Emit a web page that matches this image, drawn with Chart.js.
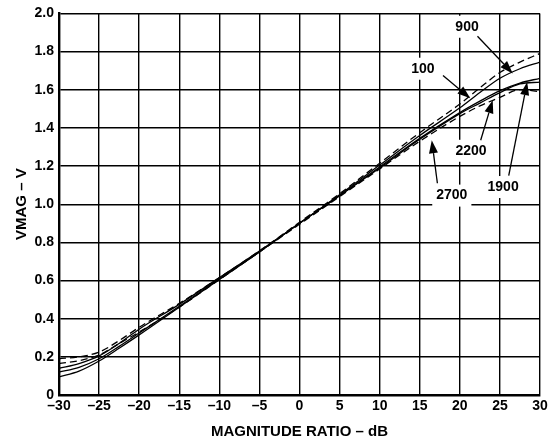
<!DOCTYPE html>
<html>
<head>
<meta charset="utf-8">
<script src="https://cdn.jsdelivr.net/npm/chart.js@4/dist/chart.umd.min.js"></script>
<style>
  html, body { margin: 0; padding: 0; background: #fff; }
  #wrap { width: 551px; height: 444px; }
</style>
</head>
<body>
<div id="wrap"><canvas id="vmagChart"></canvas></div>
<script>
// --- data ---
const ratioDb = [-30, -27.5, -25, -22.5, -20, -15, -10, -5, 0, 5, 10, 15, 20, 22.5, 25, 27.5, 30];

const vmag900  = [0.19, 0.20, 0.225, 0.285, 0.355, 0.48, 0.615, 0.755, 0.905, 1.055, 1.215, 1.375, 1.525, 1.61, 1.69, 1.745, 1.79];
const vmag2700 = [0.165, 0.18, 0.21, 0.27, 0.33, 0.46, 0.605, 0.75, 0.895, 1.04, 1.185, 1.33, 1.46, 1.515, 1.56, 1.60, 1.59];
const vmag100  = [0.14, 0.165, 0.205, 0.27, 0.345, 0.475, 0.615, 0.755, 0.90, 1.05, 1.205, 1.36, 1.505, 1.585, 1.66, 1.71, 1.745];
const vmag2200 = [0.12, 0.145, 0.19, 0.255, 0.325, 0.465, 0.61, 0.75, 0.90, 1.045, 1.195, 1.345, 1.48, 1.54, 1.595, 1.635, 1.66];
const vmag1900 = [0.095, 0.125, 0.178, 0.245, 0.315, 0.46, 0.605, 0.75, 0.90, 1.045, 1.19, 1.34, 1.475, 1.53, 1.585, 1.63, 1.64];

const xTicks = [-30, -25, -20, -15, -10, -5, 0, 5, 10, 15, 20, 25, 30];
const yTicks = [0, 0.2, 0.4, 0.6, 0.8, 1.0, 1.2, 1.4, 1.6, 1.8, 2.0];

// curve labels: text, label position, arrow tail, arrow tip (data units)
const curveLabels = [
  { text: '900',  at: [20.9, 1.93], from: [22.2, 1.88], to: [26.6, 1.685] },
  { text: '100',  at: [15.4, 1.71], from: [17.9, 1.675], to: [21.3, 1.555] },
  { text: '2200', at: [21.4, 1.28], from: [22.6, 1.335], to: [24.1, 1.545] },
  { text: '2700', at: [19.0, 1.045], from: [17.2, 1.11], to: [16.5, 1.335] },
  { text: '1900', at: [25.4, 1.09], from: [26.1, 1.15], to: [28.4, 1.64] }
];

const toPts = ys => ys.map((y, i) => ({ x: ratioDb[i], y: y }));
const FONT = 'Liberation Sans, Arial, Helvetica, sans-serif';

function series(label, ys, dashed) {
  return {
    label: label,
    data: toPts(ys),
    borderColor: '#000',
    borderWidth: 1.3,
    borderDash: dashed ? [7, 4] : [],
    pointRadius: 0,
    fill: false,
    cubicInterpolationMode: 'monotone'
  };
}

const labelPlugin = {
  id: 'curveLabels',
  afterDraw(chart) {
    const c = chart.ctx, xs = chart.scales.x, ys = chart.scales.y;
    const px = p => [xs.getPixelForValue(p[0]), ys.getPixelForValue(p[1])];
    c.save();
    c.font = 'bold 14px ' + FONT;
    c.textAlign = 'center';
    c.textBaseline = 'middle';
    curveLabels.forEach(l => {
      const [tx, ty] = px(l.at);
      const w = c.measureText(l.text).width;
      c.fillStyle = '#fff';
      c.fillRect(tx - w / 2 - 4, ty - 11, w + 8, 22);
      c.fillStyle = '#000';
      c.fillText(l.text, tx, ty);
      const [x1, y1] = px(l.from), [x2, y2] = px(l.to);
      const ang = Math.atan2(y2 - y1, x2 - x1);
      const hl = 13, hw = 4.5;
      c.strokeStyle = '#000';
      c.lineWidth = 1.3;
      c.beginPath();
      c.moveTo(x1, y1);
      c.lineTo(x2 - hl * Math.cos(ang), y2 - hl * Math.sin(ang));
      c.stroke();
      c.beginPath();
      c.moveTo(x2, y2);
      c.lineTo(x2 - hl * Math.cos(ang) + hw * Math.sin(ang), y2 - hl * Math.sin(ang) - hw * Math.cos(ang));
      c.lineTo(x2 - hl * Math.cos(ang) - hw * Math.sin(ang), y2 - hl * Math.sin(ang) + hw * Math.cos(ang));
      c.closePath();
      c.fill();
    });
    c.restore();
  }
};

new Chart(document.getElementById('vmagChart').getContext('2d'), {
  type: 'line',
  data: {
    datasets: [
      series('900', vmag900, true),
      series('2700', vmag2700, true),
      series('100', vmag100, false),
      series('2200', vmag2200, false),
      series('1900', vmag1900, false)
    ]
  },
  options: {
    responsive: true,
    maintainAspectRatio: false,
    animation: false,
    layout: { padding: { top: 13, right: 11, left: 0, bottom: 0 } },
    plugins: { legend: { display: false }, tooltip: { enabled: false } },
    scales: {
      x: {
        type: 'linear',
        min: -30, max: 30,
        afterFit: s => { s.height = 49; },
        afterBuildTicks: s => { s.ticks = xTicks.map(v => ({ value: v })); },
        ticks: {
          color: '#000',
          font: { family: FONT, size: 14, weight: 'bold' },
          padding: 3,
          maxRotation: 0,
          autoSkip: false,
          callback: v => String(v).replace('-', '\u2013')
        },
        grid: { color: '#000', lineWidth: 1.4, drawTicks: false },
        border: { color: '#000', width: 2.4 },
        title: {
          display: true,
          text: 'MAGNITUDE RATIO \u2013 dB',
          color: '#000',
          font: { family: FONT, size: 15, weight: 'bold' },
          padding: { top: 0, bottom: 3 }
        }
      },
      y: {
        min: 0, max: 2.0,
        afterFit: s => { s.width = 59; },
        afterBuildTicks: s => { s.ticks = yTicks.map(v => ({ value: v })); },
        ticks: {
          color: '#000',
          font: { family: FONT, size: 14, weight: 'bold' },
          padding: 5,
          autoSkip: false,
          callback: v => v === 0 ? '0' : v.toFixed(1)
        },
        grid: { color: '#000', lineWidth: 1.4, drawTicks: false },
        border: { color: '#000', width: 2.4 },
        title: {
          display: true,
          text: 'VMAG \u2013 V',
          color: '#000',
          font: { family: FONT, size: 15, weight: 'bold' },
          padding: { top: 13, bottom: 0 }
        }
      }
    }
  },
  plugins: [labelPlugin]
});
</script>
</body>
</html>
